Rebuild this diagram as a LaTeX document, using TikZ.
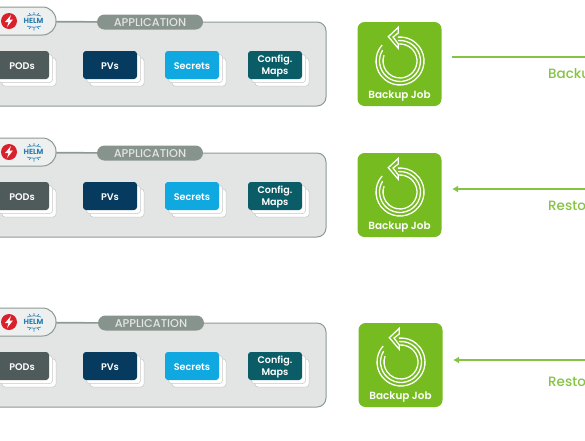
\documentclass[tikz,border=0pt]{standalone}
\usepackage{fontspec}
\usetikzlibrary{arrows.meta}
\setmainfont{Poppins}
\newfontfamily\pmed{Poppins Medium}
\newfontfamily\psemi{Poppins SemiBold}
\definecolor{panelfill}{HTML}{E3E5E5}
\definecolor{panelline}{HTML}{8C9A94}
\definecolor{pillgrey}{HTML}{87938D}
\definecolor{podc}{HTML}{4F5A5A}
\definecolor{pvc}{HTML}{063A5E}
\definecolor{secc}{HTML}{0FA8E0}
\definecolor{cfgc}{HTML}{0A5C66}
\definecolor{jobgreen}{HTML}{76BC21}
\definecolor{linegreen}{HTML}{84C441}
\definecolor{redc}{HTML}{D9212C}
\definecolor{helmc}{HTML}{2A7FB0}
\tikzset{x=1pt,y=-1pt,
 panel/.style={draw=panelline,line width=1pt,fill=panelfill,rounded corners=9pt,minimum width=354pt,minimum height=84pt,inner sep=0pt},
 toolpill/.style={draw=panelline,line width=1pt,fill=panelfill!60!white,rounded corners=13.5pt,minimum width=72pt,minimum height=28pt,inner sep=0pt},
 apppill/.style={fill=pillgrey,text=panelfill,rounded corners=7.5pt,minimum width=106pt,minimum height=15pt,inner sep=0pt,text height=9.9pt,text depth=0pt,font=\fontsize{11.3}{12}\pmed},
 card/.style={rounded corners=3pt,minimum width=54pt,minimum height=28pt,inner sep=0pt,text=white,font=\fontsize{9.6}{11.6}\psemi},
 onelinecard/.style={card,text height=9pt,text depth=0pt},
 twolinecard/.style={card,align=center},
 sheet/.style={fill=white,draw=black!22,line width=.5pt,rounded corners=3pt,minimum width=54pt,minimum height=28pt,inner sep=0pt},
 job/.style={fill=jobgreen,rounded corners=7pt,minimum width=84pt,minimum height=84pt,inner sep=0pt},
 joblabel/.style={text=white,inner sep=0pt,font=\fontsize{10.4}{11}\psemi},
 flowline/.style={draw=linegreen,line width=1.7pt},
 flowhead/.style={flowline,-{Latex[length=6pt,width=7pt]},shorten >=10.5pt},
 flowlabel/.style={text=linegreen,anchor=west,inner sep=0pt,font=\fontsize{13.5}{14}\pmed},
 ring/.style={draw=white,line width=1.3pt},
 conn/.style={draw=panelline,line width=1pt}
}
\newcommand{\stackcard}[6]{% name, x, y, color, card style, text
 \node[sheet] at (#2+7,#3+7) {};
 \node[sheet] at (#2+3.5,#3+3.5) {};
 \node[#5,fill=#4] (#1) at (#2,#3) {#6};
}
\newcommand{\appgroup}[3]{% prefix, y of panel top, x of application pill
 \node[panel] (#1panel) at (149,#2+42) {};
 \node[toolpill] (#1tools) at (20,#2-1) {};
 \node[apppill] (#1app) at (#3,#2) {APPLICATION};
 \draw[conn] (#1tools) -- (#1app);
 \node[circle,fill=redc,minimum size=16pt,inner sep=0pt] (#1red) at (9,#2-1) {};
 \fill[white] (11,#2-7) -- (5,#2) -- (8.5,#2) -- (7,#2+5) -- (13,#2-2.5) -- (9.5,#2-2.5) -- cycle;
 \node[text=helmc,inner sep=0pt,font=\fontsize{7.4}{8}\selectfont\bfseries] (#1helm) at (33.5,#2-1) {HELM};
 \draw[helmc,line width=.6pt] (29,#2-9) -- (31,#2-6.5) (34,#2-10) -- (34,#2-7) (39,#2-9) -- (37,#2-6.5) (27,#2-6) .. controls (31,#2-7.5) and (37,#2-7.5) .. (41,#2-6);
 \draw[helmc,line width=.6pt] (29,#2+7) -- (31,#2+4.5) (34,#2+8.5) -- (34,#2+5) (39,#2+7) -- (37,#2+4.5) (27,#2+4) .. controls (31,#2+5.5) and (37,#2+5.5) .. (41,#2+4);
 \stackcard{#1pods}{22}{#2+43}{podc}{onelinecard}{PODs}
 \stackcard{#1pvs}{110}{#2+43}{pvc}{onelinecard}{PVs}
 \stackcard{#1sec}{192}{#2+43}{secc}{onelinecard}{Secrets}
 \stackcard{#1cfg}{275}{#2+43}{cfgc}{twolinecard}{\rule{0pt}{10pt}Config.\\Maps}
}
\newcommand{\jobbox}[3]{% prefix, center x, panel top y
 \node[job] (#1job) at (#2,#3+42) {};
 \node[joblabel] (#1joblabel) at (#2,#3+73.8) {Backup Job};
 \begin{scope}[shift={(#2+.5,#3+39)}]
  \draw[ring] (-95:24) arc[start angle=-95,end angle=222,radius=24];
  \draw[ring] (-95:20.5) arc[start angle=-95,end angle=212,radius=20.5];
  \draw[ring] (-95:17) arc[start angle=-95,end angle=200,radius=17];
  \draw[ring,line join=miter,fill=jobgreen] (-1.7,-33.7) -- (-11.7,-24.3) -- (-1.7,-12.7) -- (-1.7,-17) -- (-7,-24) -- (-1.7,-28) -- cycle;
 \end{scope}
}
\begin{document}
\begin{tikzpicture}
\useasboundingbox (0,0) rectangle (585,440);
\clip (0,0) rectangle (585,440);
\appgroup{a}{22}{150}
\appgroup{b}{153}{150}
\appgroup{c}{323}{151}
\jobbox{a}{399.5}{22}
\jobbox{b}{399.5}{153}
\jobbox{c}{400.5}{323}
\coordinate (aend) at (585,57);
\coordinate (astart) at (452,57);
\coordinate (bend) at (585,189);
\coordinate (bhead) at (441.5,189);
\coordinate (cend) at (585,360);
\coordinate (chead) at (442.5,360);
\draw[flowline] (astart) -- (aend);
\draw[flowhead] (bend) -- (bhead);
\draw[flowhead] (cend) -- (chead);
\node[flowlabel] (alabel) at (548,73.5) {Backu};
\node[flowlabel] (blabel) at (548,205.5) {Resto};
\node[flowlabel] (clabel) at (548,381.5) {Resto};
\end{tikzpicture}
\end{document}
